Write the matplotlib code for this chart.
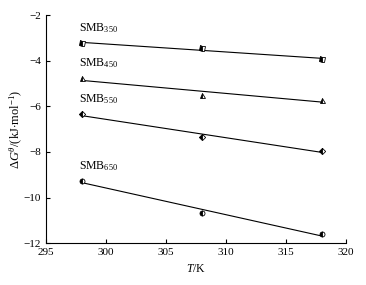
import numpy as np
import matplotlib
matplotlib.use('Agg')
import matplotlib.pyplot as plt

plt.rcParams['font.family'] = ['Liberation Serif', 'DejaVu Serif']
plt.rcParams['mathtext.fontset'] = 'custom'
plt.rcParams['mathtext.rm'] = 'Liberation Serif'
plt.rcParams['mathtext.it'] = 'Liberation Serif:italic'
plt.rcParams['font.size'] = 8

# temperatures (K) and dG values (kJ/mol)
T = [298, 308, 318]
smb350 = [-3.24, -3.46, -3.94]
smb450 = [-4.78, -5.51, -5.73]
smb550 = [-6.34, -7.36, -7.95]
smb650 = [-9.28, -10.66, -11.62]

series = [
    ('SMB$_{350}$', smb350, 's'),
    ('SMB$_{450}$', smb450, '^'),
    ('SMB$_{550}$', smb550, 'D'),
    ('SMB$_{650}$', smb650, 'o'),
]

fig = plt.figure(figsize=(3.66, 2.85), dpi=100)
ax = fig.add_axes([0.126, 0.147, 0.819, 0.8])

for name, vals, mk in series:
    k, b = np.polyfit(T, vals, 1)
    xs = np.array([T[0], T[-1]])
    ax.plot(xs, k * xs + b, color='black', lw=0.8)
    ms = 3.6 if mk != 'D' else 3.2
    ax.plot(T, vals, linestyle='none', marker=mk, ms=ms, color='black',
            fillstyle='left', markerfacecoloralt='white', mew=0.6)
    ax.annotate(name, (T[0], vals[0]), xytext=(-2, 6), textcoords='offset points',
                fontsize=8.5, ha='left', va='bottom')

ax.set_xlim(295, 320)
ax.set_ylim(-12, -2)
ax.set_xticks([295, 300, 305, 310, 315, 320])
ax.set_yticks([-12, -10, -8, -6, -4, -2])
ax.set_yticklabels(['\u221212', '\u221210', '\u22128', '\u22126', '\u22124', '\u22122'])
ax.tick_params(direction='in', length=3, width=0.8, labelsize=8)
ax.spines['top'].set_visible(False)
ax.spines['right'].set_visible(False)
ax.set_xlabel('$T$/K', fontsize=8.5, labelpad=4)
ax.set_ylabel(r'$\Delta G^{\theta}$/(kJ$\cdot$mol$^{-1}$)', fontsize=9, labelpad=0)

fig.savefig('out.png', dpi=100)
